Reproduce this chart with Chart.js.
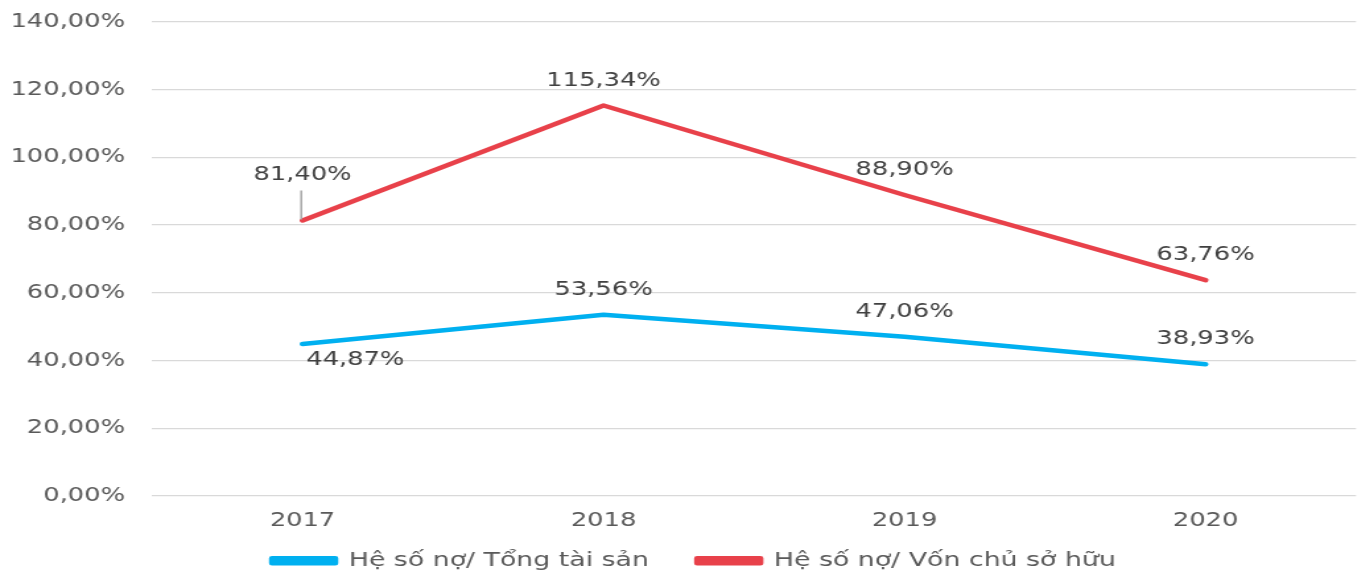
<!DOCTYPE html>
<html>
<head>
<meta charset="utf-8">
<script src="https://cdn.jsdelivr.net/npm/chart.js@4"></script>
<style>
  html, body { margin: 0; padding: 0; background: #fff; overflow: hidden; }
  #wrap { width: 1365px; height: 571px; overflow: hidden; position: relative; }
  #c { position: absolute; left: 0; top: 0; transform: scaleX(1.32); transform-origin: 0 0; }
</style>
</head>
<body>
<div id="wrap"><canvas id="c" width="1034" height="581"></canvas></div>
<script>
const categories = ['2017', '2018', '2019', '2020'];
const debtToAssets = [44.87, 53.56, 47.06, 38.93];
const debtToEquity = [81.40, 115.34, 88.90, 63.76];
const seriesNames = ['Hệ số nợ/ Tổng tài sản', 'Hệ số nợ/ Vốn chủ sở hữu'];
const yMin = 0, yMax = 140, yStep = 20;

const FONT = '"DejaVu Sans", Verdana, sans-serif';
const fmt = v => v.toFixed(2).replace('.', ',') + '%';
const CANVAS_H = 581, LEG_FONT = 20.3, LEG_PAD = 36.5, PLOT_BOTTOM = 496, PAD_LEFT = 24;

const labelPlugin = {
  id: 'pointLabels',
  afterDatasetsDraw(chart, args, opts) {
    const ctx = chart.ctx;
    ctx.save();
    ctx.font = '19.5px ' + FONT;
    ctx.textAlign = 'center';
    ctx.textBaseline = 'middle';
    chart.data.datasets.forEach((ds, di) => {
      const meta = chart.getDatasetMeta(di);
      meta.data.forEach((pt, i) => {
        const off = (opts.offsets[di] && opts.offsets[di][i]) || {dx: 0, dy: -25};
        const x = pt.x + off.dx, y = pt.y + off.dy;
        if (off.leader) {
          ctx.strokeStyle = '#A6A6A6';
          ctx.lineWidth = 1.5;
          ctx.beginPath();
          ctx.moveTo(pt.x - 1, pt.y - 1);
          ctx.lineTo(pt.x - 1, pt.y - 30);
          ctx.stroke();
        }
        ctx.fillStyle = '#404040';
        ctx.fillText(fmt(ds.data[i]), x, y);
      });
    });
    ctx.restore();
  }
};

new Chart(document.getElementById('c'), {
  type: 'line',
  data: {
    labels: categories,
    datasets: [
      { label: seriesNames[0], data: debtToAssets, borderColor: '#00B0F0', backgroundColor: '#00B0F0',
        borderWidth: 4.5, pointRadius: 0, tension: 0, borderCapStyle: 'round', borderJoinStyle: 'round' },
      { label: seriesNames[1], data: debtToEquity, borderColor: '#E8414A', backgroundColor: '#E8414A',
        borderWidth: 4.5, pointRadius: 0, tension: 0, borderCapStyle: 'round', borderJoinStyle: 'round' }
    ]
  },
  options: {
    responsive: false,
    animation: false,
    events: [],
    layout: { padding: { top: 22, right: 6.7, left: PAD_LEFT, bottom: 0 } },
    plugins: {
      legend: {
        position: 'bottom',
        labels: {
          font: { family: FONT, size: LEG_FONT },
          color: '#595959',
          boxWidth: 48,
          boxHeight: 5,
          padding: LEG_PAD
        }
      },
      tooltip: { enabled: false },
      pointLabels: {
        offsets: [
          [{dx: 40, dy: 16}, null, null, null],
          [{dx: 0, dy: -45, leader: true}, null, null, null]
        ]
      }
    },
    scales: {
      x: {
        offset: true,
        grid: { display: false, drawTicks: false },
        border: { display: false },
        ticks: { color: '#595959', font: { family: FONT, size: 19.5 }, padding: 13 },
        afterFit(scale) {
          scale.height = CANVAS_H - (LEG_FONT + 10) - LEG_PAD - PLOT_BOTTOM;
          scale.paddingLeft = 0; scale.paddingRight = 0;
          scale._computeLabelArea = () => undefined;
        }
      },
      y: {
        min: yMin, max: yMax,
        grid: { color: '#D9D9D9', lineWidth: 1.3, drawTicks: false },
        border: { display: false },
        ticks: { stepSize: yStep, color: '#595959', font: { family: FONT, size: 19.5 }, padding: 20.5,
                 callback: v => fmt(v) },
        afterFit(scale) {
          scale.width = 115.2 - PAD_LEFT;
          scale.paddingTop = 0; scale.paddingBottom = 0;
          scale._computeLabelArea = () => undefined;
        }
      }
    }
  },
  plugins: [labelPlugin]
});
</script>
</body>
</html>
